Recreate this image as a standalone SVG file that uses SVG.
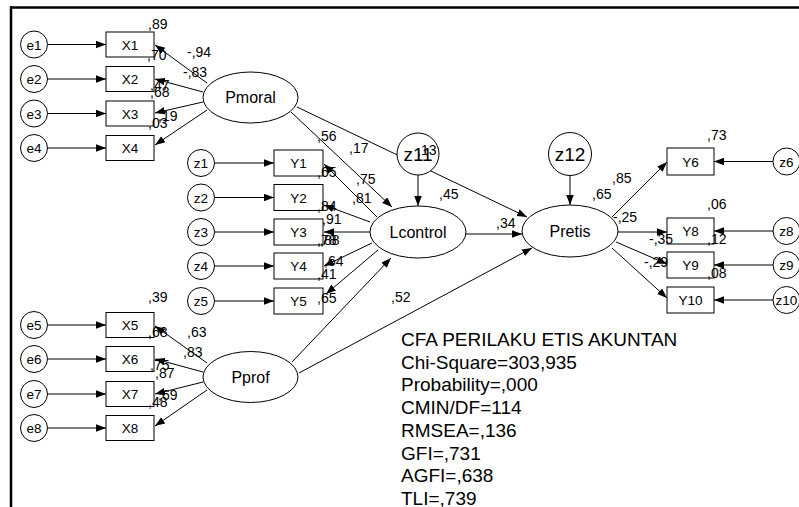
<svg xmlns="http://www.w3.org/2000/svg" width="799" height="507" viewBox="0 0 799 507">
<defs>
<marker id="ah" markerUnits="userSpaceOnUse" markerWidth="11" markerHeight="8" refX="10" refY="3.75" orient="auto">
<path d="M0,0 L10,3.75 L0,7.5 z" fill="#000"/>
</marker>
<style>
text{font-family:"Liberation Sans",Arial,sans-serif;fill:#000}
.nl{font-size:13.5px;text-anchor:middle}
.lv{font-size:16px;text-anchor:middle}
.big{font-size:19px;text-anchor:middle}
.lb{font-size:14px}
.st{font-size:19px}
rect,circle,ellipse{fill:#fff;stroke:#000;stroke-width:1}
#connectors line{stroke:#000;stroke-width:1;marker-end:url(#ah)}
</style>
</defs>
<rect x="0" y="0" width="799" height="507" style="stroke:none"/>
<g id="frame"><line x1="10" y1="7.5" x2="799" y2="7.5" stroke="#000" stroke-width="2.5"/><line x1="11" y1="6.5" x2="11" y2="507" stroke="#000" stroke-width="2.5"/></g>
<g id="connectors">
<line x1="48" y1="44.5" x2="106" y2="44.5"/>
<line x1="48" y1="79" x2="106" y2="79"/>
<line x1="48" y1="113.5" x2="106" y2="113.5"/>
<line x1="48" y1="148" x2="106" y2="148"/>
<line x1="48" y1="325" x2="106" y2="325"/>
<line x1="48" y1="359" x2="106" y2="359"/>
<line x1="48" y1="394" x2="106" y2="394"/>
<line x1="48" y1="428" x2="106" y2="428"/>
<line x1="207" y1="83" x2="155" y2="45"/>
<line x1="203" y1="92" x2="155" y2="79"/>
<line x1="203" y1="102" x2="155" y2="113"/>
<line x1="207" y1="110" x2="155" y2="145"/>
<line x1="207" y1="363" x2="155" y2="326"/>
<line x1="203" y1="372" x2="155" y2="359"/>
<line x1="203" y1="382" x2="155" y2="394"/>
<line x1="207" y1="390" x2="155" y2="426"/>
<line x1="215" y1="163" x2="274" y2="163"/>
<line x1="215" y1="197.5" x2="274" y2="197.5"/>
<line x1="215" y1="232" x2="274" y2="232"/>
<line x1="215" y1="266" x2="274" y2="266"/>
<line x1="215" y1="301" x2="274" y2="301"/>
<line x1="377" y1="217" x2="324" y2="164"/>
<line x1="370" y1="222" x2="324" y2="205"/>
<line x1="370" y1="232" x2="324" y2="232"/>
<line x1="372" y1="243" x2="324" y2="266"/>
<line x1="378" y1="250" x2="326" y2="294"/>
<line x1="291" y1="112" x2="392" y2="207"/>
<line x1="297" y1="107" x2="527" y2="217"/>
<line x1="292" y1="362" x2="391" y2="258"/>
<line x1="299" y1="373" x2="532" y2="248"/>
<line x1="418" y1="175" x2="418" y2="206"/>
<line x1="570" y1="176" x2="570" y2="205"/>
<line x1="466" y1="234" x2="522" y2="234"/>
<line x1="612" y1="217" x2="667" y2="162"/>
<line x1="618" y1="232" x2="667" y2="232"/>
<line x1="616" y1="242" x2="667" y2="264"/>
<line x1="612" y1="248" x2="667" y2="298"/>
<line x1="773" y1="161.5" x2="714" y2="161.5"/>
<line x1="773" y1="231" x2="714" y2="231"/>
<line x1="773" y1="265" x2="714" y2="265"/>
<line x1="773" y1="300" x2="714" y2="300"/>
</g>
<g id="e1"><circle cx="34" cy="44.5" r="13.5"/><text class="nl" x="34" y="49.5">e1</text></g>
<g id="e2"><circle cx="34" cy="79" r="13.5"/><text class="nl" x="34" y="84">e2</text></g>
<g id="e3"><circle cx="34" cy="113.5" r="13.5"/><text class="nl" x="34" y="118.5">e3</text></g>
<g id="e4"><circle cx="34" cy="148" r="13.5"/><text class="nl" x="34" y="153">e4</text></g>
<g id="e5"><circle cx="34" cy="325" r="13.5"/><text class="nl" x="34" y="330">e5</text></g>
<g id="e6"><circle cx="34" cy="359" r="13.5"/><text class="nl" x="34" y="364">e6</text></g>
<g id="e7"><circle cx="34" cy="394" r="13.5"/><text class="nl" x="34" y="399">e7</text></g>
<g id="e8"><circle cx="34" cy="428" r="13.5"/><text class="nl" x="34" y="433">e8</text></g>
<g id="X1"><rect x="106" y="32" width="48" height="25"/><text class="nl" x="130" y="49.5">X1</text></g>
<g id="X2"><rect x="106" y="66.5" width="48" height="25"/><text class="nl" x="130" y="84">X2</text></g>
<g id="X3"><rect x="106" y="101" width="48" height="25"/><text class="nl" x="130" y="118.5">X3</text></g>
<g id="X4"><rect x="106" y="135.5" width="48" height="25"/><text class="nl" x="130" y="153">X4</text></g>
<g id="X5"><rect x="106" y="312.5" width="48" height="25"/><text class="nl" x="130" y="330">X5</text></g>
<g id="X6"><rect x="106" y="346.5" width="48" height="25"/><text class="nl" x="130" y="364">X6</text></g>
<g id="X7"><rect x="106" y="381.5" width="48" height="25"/><text class="nl" x="130" y="399">X7</text></g>
<g id="X8"><rect x="106" y="415.5" width="48" height="25"/><text class="nl" x="130" y="433">X8</text></g>
<g id="Pmoral"><ellipse cx="250.5" cy="97.5" rx="47.5" ry="25.5"/><text class="lv" x="250.5" y="103">Pmoral</text></g>
<g id="Pprof"><ellipse cx="250.5" cy="377" rx="47.5" ry="25.5"/><text class="lv" x="250.5" y="382.5">Pprof</text></g>
<g id="z1"><circle cx="201" cy="163" r="13.5"/><text class="nl" x="201" y="168">z1</text></g>
<g id="z2"><circle cx="201" cy="197.5" r="13.5"/><text class="nl" x="201" y="202.5">z2</text></g>
<g id="z3"><circle cx="201" cy="232" r="13.5"/><text class="nl" x="201" y="237">z3</text></g>
<g id="z4"><circle cx="201" cy="266" r="13.5"/><text class="nl" x="201" y="271">z4</text></g>
<g id="z5"><circle cx="201" cy="301" r="13.5"/><text class="nl" x="201" y="306">z5</text></g>
<g id="Y1"><rect x="274" y="150" width="49" height="26"/><text class="nl" x="298.5" y="168">Y1</text></g>
<g id="Y2"><rect x="274" y="184.5" width="49" height="26"/><text class="nl" x="298.5" y="202.5">Y2</text></g>
<g id="Y3"><rect x="274" y="219" width="49" height="26"/><text class="nl" x="298.5" y="237">Y3</text></g>
<g id="Y4"><rect x="274" y="253" width="49" height="26"/><text class="nl" x="298.5" y="271">Y4</text></g>
<g id="Y5"><rect x="274" y="288" width="49" height="26"/><text class="nl" x="298.5" y="306">Y5</text></g>
<g id="Lcontrol"><ellipse cx="418" cy="232" rx="48" ry="26"/><text class="lv" x="418" y="237.5">Lcontrol</text></g>
<g id="Pretis"><ellipse cx="570" cy="231" rx="48" ry="26"/><text class="lv" x="570" y="236.5">Pretis</text></g>
<g id="z11"><circle cx="418" cy="154" r="21"/><text class="big" x="418" y="161">z11</text></g>
<g id="z12"><circle cx="570" cy="154" r="21.5"/><text class="big" x="570" y="161">z12</text></g>
<g id="Y6"><rect x="667" y="148" width="47" height="27"/><text class="nl" x="690.5" y="166.5">Y6</text></g>
<g id="Y8"><rect x="667" y="218" width="47" height="26"/><text class="nl" x="690.5" y="236">Y8</text></g>
<g id="Y9"><rect x="667" y="252" width="47" height="26"/><text class="nl" x="690.5" y="270">Y9</text></g>
<g id="Y10"><rect x="667" y="287" width="47" height="26"/><text class="nl" x="690.5" y="305">Y10</text></g>
<g id="z6"><circle cx="786.5" cy="161.5" r="13.5"/><text class="nl" x="786.5" y="166.5">z6</text></g>
<g id="z8"><circle cx="786.5" cy="231" r="13.5"/><text class="nl" x="786.5" y="236">z8</text></g>
<g id="z9"><circle cx="786.5" cy="265" r="13.5"/><text class="nl" x="786.5" y="270">z9</text></g>
<g id="z10"><circle cx="786.5" cy="300" r="13.5"/><text class="nl" x="786.5" y="305">z10</text></g>
<g id="labels">
<text class="lb" x="148" y="29">,89</text>
<text class="lb" x="147" y="60">,70</text>
<text class="lb" x="187" y="57">-,94</text>
<text class="lb" x="183" y="77">-,83</text>
<text class="lb" x="150" y="90">,47</text>
<text class="lb" x="150" y="97">,68</text>
<text class="lb" x="158" y="121">,19</text>
<text class="lb" x="148" y="128">,03</text>
<text class="lb" x="148" y="302">,39</text>
<text class="lb" x="148" y="337">,68</text>
<text class="lb" x="187" y="337">,63</text>
<text class="lb" x="183" y="357">,83</text>
<text class="lb" x="150" y="370">,75</text>
<text class="lb" x="155" y="378">,87</text>
<text class="lb" x="158" y="400">,69</text>
<text class="lb" x="148" y="407">,48</text>
<text class="lb" x="317" y="141">,56</text>
<text class="lb" x="349" y="153">,17</text>
<text class="lb" x="317" y="177">,65</text>
<text class="lb" x="356" y="184">,75</text>
<text class="lb" x="352" y="203">,81</text>
<text class="lb" x="317" y="211">,84</text>
<text class="lb" x="322" y="224">,91</text>
<text class="lb" x="317" y="245">,78</text>
<text class="lb" x="320" y="245">,88</text>
<text class="lb" x="324" y="266">,64</text>
<text class="lb" x="317" y="279">,41</text>
<text class="lb" x="317" y="303">,65</text>
<text class="lb" x="391" y="302">,52</text>
<text class="lb" x="417" y="155">,13</text>
<text class="lb" x="439" y="199">,45</text>
<text class="lb" x="496" y="228">,34</text>
<text class="lb" x="592" y="199">,65</text>
<text class="lb" x="612" y="183">,85</text>
<text class="lb" x="613" y="222">-,25</text>
<text class="lb" x="707" y="140">,73</text>
<text class="lb" x="707" y="209">,06</text>
<text class="lb" x="649" y="244">-,35</text>
<text class="lb" x="707" y="244">,12</text>
<text class="lb" x="644" y="267">-,29</text>
<text class="lb" x="707" y="278">,08</text>
</g>
<g id="stats">
<text class="st" x="401" y="346">CFA PERILAKU ETIS AKUNTAN</text>
<text class="st" x="401" y="368.7">Chi-Square=303,935</text>
<text class="st" x="401" y="391.4">Probability=,000</text>
<text class="st" x="401" y="414.1">CMIN/DF=114</text>
<text class="st" x="401" y="436.8">RMSEA=,136</text>
<text class="st" x="401" y="459.5">GFI=,731</text>
<text class="st" x="401" y="482.2">AGFI=,638</text>
<text class="st" x="401" y="504.9">TLI=,739</text>
</g>
</svg>
